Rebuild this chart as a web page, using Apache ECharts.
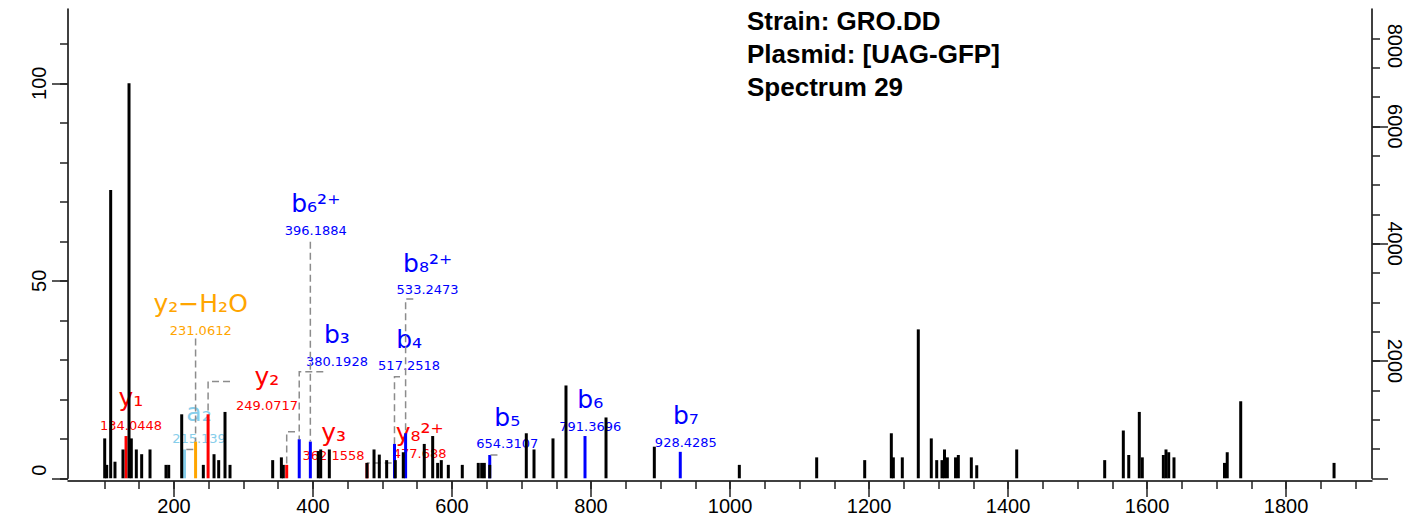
<!DOCTYPE html>
<html><head><meta charset="utf-8">
<script src="https://cdn.jsdelivr.net/npm/echarts@6/dist/echarts.min.js"></script>
<style>html,body{margin:0;padding:0;background:#fff}#c{width:1416px;height:523px}</style>
</head><body><div id="c"></div>
<script>
// ---------- data (m/z, relative intensity %) ----------
const peakMz = [100.3,103.2,108.9,115.1,126.6,135.3,138.6,145.8,153.5,165.5,188.5,192.4,211.1,242.2,257.6,264.3,273.4,280.6,342.0,354.5,357.3,407.6,411.1,423.5,477.7,487.8,495.4,506.0,518.4,529.9,560.1,572.2,579.4,584.6,594.7,614.8,637.8,642.7,646.5,654.3,706.9,718.0,745.3,764.0,821.6,891.1,1013.4,1124.7,1193.8,1232.1,1235.0,1247.9,1270.9,1289.6,1297.4,1305.0,1308.6,1312.7,1324.5,1328.5,1347.2,1355.0,1412.5,1539.1,1565.9,1573.7,1588.9,1593.2,1623.5,1627.3,1631.2,1638.8,1711.5,1715.4,1734.8,1869.1];
const peakInt = [10.1,3.4,73.0,4.2,7.3,100,10.1,7.3,6.1,7.3,3.4,3.4,16.2,3.4,6.1,4.6,16.8,3.4,4.6,5.3,3.4,6.9,7.3,7.3,3.9,7.3,6.0,4.6,4.6,6.6,8.7,10.7,3.9,4.6,3.4,3.4,3.9,3.9,3.9,3.4,11.4,7.3,10.1,23.5,15.4,8.0,3.4,5.3,4.6,11.4,5.3,5.3,37.7,10.1,4.6,4.6,7.3,5.3,5.3,5.9,5.3,3.3,7.3,4.6,12.1,5.9,16.8,5.3,5.9,7.3,6.6,5.3,3.9,6.6,19.5,3.9];

// annotated fragment ions
const ionLabels = ['y\u2081','a\u2082','y\u2082\u2212H\u2082O','y\u2082','y\u2083','b\u2083','b\u2086\u00b2\u207a','y\u2088\u00b2\u207a','b\u2084','b\u2088\u00b2\u207a','b\u2085','b\u2086','b\u2087'];
const ionMzText = ['134.0448','215.139','231.0612','249.0717','362.1558','380.1928','396.1884','477.688','517.2518','533.2473','654.3107','791.3696','928.4285'];
const ionType = ['y','a','yH2O','y','y','b','b','y','b','b','b','b','b'];
const ionMz = [131.0,215.14,231.06,249.07,362.16,380.19,396.19,477.69,517.25,533.25,654.31,791.37,928.43];
const ionInt = [10.7,7.3,9.3,16.2,3.4,9.9,9.3,3.9,8.7,11.4,5.9,10.7,6.7];

// axis ticks
const xMajorTicks = [200,400,600,800,1000,1200,1400,1600,1800];
const xMinorTicks = []; for (let v = 100; v <= 1900; v += 50) xMinorTicks.push(v);
const yLeftMajor = [0,50,100];
const yLeftMinor = [0,10,20,30,40,50,60,70,80,90,100,110];
const yRightMajor = [0,2000,4000,6000];
const yRightLabels = [2000,4000,6000,8000];
const yRightMinor = []; for (let v = 500; v <= 7500; v += 500) yRightMinor.push(v);

// ---------- annotation layout (data coordinates: m/z, %) ----------
const labelX     = [138.1,236.0,238.4,333.8,429.6,434.4,404.0,553.5,538.3,564.9,679.6,799.0,936.5];
const labelIonY  = [20.4,16.6,44.2,25.7,11.6,36.4,69.5,11.6,35.1,54.4,15.4,19.9,15.9];
const labelMzY   = [13.3,10.1,37.4,18.5,5.7,29.6,62.8,6.3,28.5,47.8,8.7,13.0,9.1];
const leaderJoint = [null,[227.8,7.3],[231.06,35.4],[280.6,24.5],[374.1,11.8],[414.8,27.0],[396.19,59.9],[513.2,3.9],[525.2,25.7],[544.3,45.4],[665.4,5.9],null,null];

const typeColor = {y:'#FF0000', b:'#0000FF', a:'#87CEEB', yH2O:'#FFA500'};
const XMIN = 47.5, XMAX = 1923.7, YMAX = 118.8, RMAX = 8000;
const axisFont = 'Liberation Sans';
const tickStyle = {color:'#222', width:1.5};

const chart = echarts.init(document.getElementById('c'), null, {renderer:'svg'});

function barItem(color){
  return function(params, api){
    const m = api.value(0), v = api.value(1);
    const b = api.coord([m,0]), t = api.coord([m,v]);
    return {type:'rect', shape:{x:b[0]-1.5, y:t[1], width:3, height:b[1]-t[1]},
      style:{fill: typeof color === 'function' ? color(api) : color}};
  };
}

const leaderData = [];
leaderJoint.forEach((j,i)=>{ if (j) leaderData.push([j[0], j[1], ionMz[i], ionInt[i]]); });

const labelData = labelX.map((x,i)=>[x, labelIonY[i], labelMzY[i], i]);

const lab = (extra) => Object.assign({fontSize:20, fontFamily:axisFont, color:'#000'}, extra||{});

chart.setOption({
  animation:false,
  title:{text:'Strain: GRO.DD\nPlasmid: [UAG-GFP]\nSpectrum 29', left:747, top:4, padding:0,
    textStyle:{fontFamily:axisFont, fontWeight:'bold', fontSize:26, lineHeight:33, color:'#000'}},
  grid:{left:68, right:44, top:9, bottom:44.7, containLabel:false},
  xAxis:[
    {type:'value', min:XMIN, max:XMAX, position:'bottom', offset:2.7,
     axisLine:{show:true, onZero:false, lineStyle:{color:'#000', width:1.5}},
     axisTick:{show:true, customValues:xMajorTicks, length:16, lineStyle:tickStyle},
     axisLabel:{show:true, customValues:xMajorTicks, fontSize:20, fontFamily:axisFont, color:'#000', margin:15,
       formatter:v => String(v)},
     splitLine:{show:false}},
    {type:'value', min:XMIN, max:XMAX, position:'bottom', offset:2.7,
     axisLine:{show:false, onZero:false},
     axisTick:{show:true, customValues:xMinorTicks, length:8, lineStyle:tickStyle},
     axisLabel:{show:false}, splitLine:{show:false}}
  ],
  yAxis:[
    {type:'value', min:0, max:YMAX, position:'left',
     axisLine:{show:true, onZero:false, lineStyle:{color:'#000', width:1.5}},
     axisTick:{show:true, customValues:yLeftMajor, length:16, lineStyle:tickStyle},
     axisLabel:{show:true, customValues:yLeftMajor, rotate:90, margin:19,
       formatter:v => v===0 ? '{s|0}' : '{n|'+v+'}',
       rich:{s:lab({padding:[0,0,0,16]}), n:lab()}},
     splitLine:{show:false}},
    {type:'value', min:0, max:YMAX, position:'left',
     axisLine:{show:false, onZero:false},
     axisTick:{show:true, customValues:yLeftMinor, length:8, lineStyle:tickStyle},
     axisLabel:{show:false}, splitLine:{show:false}},
    {type:'value', min:0, max:RMAX, position:'right',
     axisLine:{show:true, onZero:false, lineStyle:{color:'#000', width:1.5}},
     axisTick:{show:true, customValues:yRightMajor, length:16, lineStyle:tickStyle},
     axisLabel:{show:true, customValues:yRightLabels, rotate:-90, margin:13,
       formatter:v => v===8000 ? '{s|8000}' : '{n|'+v+'}',
       rich:{s:lab({padding:[0,0,0,74]}), n:lab()}},
     splitLine:{show:false}},
    {type:'value', min:0, max:RMAX, position:'right',
     axisLine:{show:false, onZero:false},
     axisTick:{show:true, customValues:yRightMinor, length:8, lineStyle:tickStyle},
     axisLabel:{show:false}, splitLine:{show:false}}
  ],
  series:[
    {type:'custom', name:'labels', z:1, silent:true,
     data:labelData, encode:{x:0, y:[1,2]},
     renderItem:function(params, api){
       const i = api.value(3);
       const p1 = api.coord([api.value(0), api.value(1)]);
       const p2 = api.coord([api.value(0), api.value(2)]);
       const col = typeColor[ionType[i]];
       return {type:'group', children:[
         {type:'text', x:p1[0], y:p1[1], style:{text:ionLabels[i], fill:col, fontSize:25, fontFamily:'DejaVu Sans', align:'center', verticalAlign:'middle'}},
         {type:'text', x:p2[0], y:p2[1], style:{text:ionMzText[i], fill:col, fontSize:13, fontFamily:'DejaVu Sans', align:'center', verticalAlign:'middle'}}
       ]};
     }},
    {type:'custom', name:'ions', z:2, silent:true,
     data:ionMz.map((m,i)=>[m, ionInt[i], i]), encode:{x:0, y:1},
     renderItem:barItem(api => typeColor[ionType[api.value(2)]])},
    {type:'custom', name:'leaders', z:3, silent:true,
     data:leaderData, encode:{x:[0,2], y:[1,3]},
     renderItem:function(params, api){
       const jx = api.value(0), jy = api.value(1), pm = api.value(2), pv = api.value(3);
       const pts = [api.coord([jx,jy]), api.coord([pm,jy]), api.coord([pm,pv])];
       return {type:'polyline', shape:{points:pts},
         style:{stroke:'#8c8c8c', lineWidth:1.5, lineDash:[7,4], fill:null}};
     }},
    {type:'custom', name:'peaks', z:4, silent:true,
     data:peakMz.map((m,i)=>[m, peakInt[i]]), encode:{x:0, y:1},
     renderItem:barItem('#000')}
  ]
});
</script></body></html>
